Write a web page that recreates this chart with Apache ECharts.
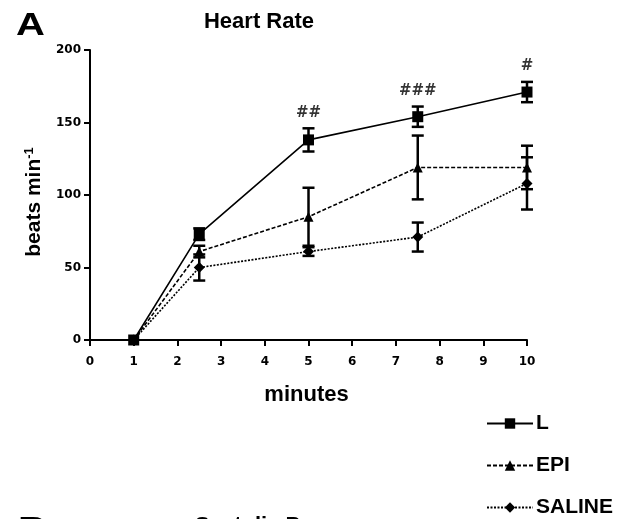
<!DOCTYPE html>
<html>
<head>
<meta charset="utf-8">
<script src="https://cdn.jsdelivr.net/npm/echarts@6/dist/echarts.min.js"></script>
<style>
  html, body { margin: 0; padding: 0; background: #fff; }
  #chart { width: 621px; height: 519px; }
</style>
</head>
<body>
<div id="chart"></div>
<script>
// Heart rate over time (mean ± SEM) for three treatment groups
const minutes = [1, 2.5, 5, 7.5, 10];
const L_mean = [0, 73, 138, 154, 171];
const L_err = [0, 4, 8, 7, 7];
const EPI_mean = [0, 61, 85, 119, 119];
const EPI_err = [0, 4, 20, 22, 15];
const SALINE_mean = [0, 50, 61, 71, 108];
const SALINE_err = [0, 9, 3, 10, 18];
// significance marks shown above the L group
const L_marks = ['', '', '##', '###', '#'];

const xTicks = [0, 1, 2, 3, 4, 5, 6, 7, 8, 9, 10];
const yTicks = [0, 50, 100, 150, 200];

const FONT = 'Liberation Sans, Arial, sans-serif';
const TICK_FONT = 'DejaVu Sans, sans-serif';

function pairs(xs, ys) { return xs.map((x, i) => [x, ys[i]]); }
function errRows(xs, m, e) { return xs.map((x, i) => [x, m[i] - e[i], m[i] + e[i]]); }

function errorBarSeries(name, rows) {
  return {
    type: 'custom',
    name: name + '-err',
    z: 3,
    silent: true,
    data: rows,
    renderItem: function (params, api) {
      const x = api.value(0);
      const lo = api.coord([x, api.value(1)]);
      const hi = api.coord([x, api.value(2)]);
      const cap = 6;
      if (Math.abs(lo[1] - hi[1]) < 0.5) return null;
      const style = { stroke: '#000', lineWidth: 2.5, fill: null };
      return {
        type: 'group',
        children: [
          { type: 'line', shape: { x1: lo[0], y1: lo[1], x2: hi[0], y2: hi[1] }, style },
          { type: 'line', shape: { x1: hi[0] - cap, y1: hi[1], x2: hi[0] + cap, y2: hi[1] }, style },
          { type: 'line', shape: { x1: lo[0] - cap, y1: lo[1], x2: lo[0] + cap, y2: lo[1] }, style }
        ]
      };
    }
  };
}

const chart = echarts.init(document.getElementById('chart'), null, { renderer: 'canvas' });

chart.setOption({
  backgroundColor: '#fff',
  animation: false,
  textStyle: { fontFamily: FONT, color: '#000' },
  grid: { left: 90, right: 94, top: 50, bottom: 179, containLabel: false },
  graphic: [
    { type: 'text', x: 16, y: 10, scaleX: 1.25, style: { text: 'A', font: 'bold 32px ' + FONT, fill: '#000' } },
    { type: 'text', x: 259, y: 11, style: { text: 'Heart Rate', font: 'bold 22px ' + FONT, fill: '#000', textAlign: 'center' } },
    { type: 'text', x: 18, y: 514, scaleX: 1.25, style: { text: 'B', font: 'bold 32px ' + FONT, fill: '#000' } },
    { type: 'text', x: 195, y: 515, style: { text: 'Systolic Pressure', font: 'bold 22px ' + FONT, fill: '#000' } }
  ],
  legend: {
    orient: 'vertical',
    left: 486,
    top: 413,
    height: 106,
    padding: 0,
    itemWidth: 46,
    itemHeight: 13,
    itemGap: 21,
    data: ['L', 'EPI', 'SALINE'],
    textStyle: { fontFamily: FONT, fontWeight: 'bold', fontSize: 21, color: '#000', padding: [0, 0, 0, -2] }
  },
  xAxis: {
    type: 'value',
    min: 0,
    max: 10,
    interval: 1,
    name: 'minutes',
    nameLocation: 'middle',
    nameGap: 44,
    nameTextStyle: { fontFamily: FONT, fontWeight: 'bold', fontSize: 22, color: '#000', padding: [0, 0, 0, -4] },
    splitLine: { show: false },
    axisLine: { show: true, onZero: false, lineStyle: { color: '#000', width: 2 } },
    axisTick: { show: true, length: 6, lineStyle: { color: '#000', width: 2 } },
    axisLabel: {
      fontFamily: TICK_FONT, fontWeight: 'bold', fontSize: 12, color: '#000', margin: 16,
      customValues: xTicks
    }
  },
  yAxis: {
    type: 'value',
    min: 0,
    max: 200,
    interval: 50,
    name: '{b|beats min}{s|-1}',
    nameLocation: 'middle',
    nameGap: 42,
    nameRotate: 90,
    nameTextStyle: {
      padding: [0, 14, 0, 0],
      rich: {
        b: { fontFamily: FONT, fontWeight: 'bold', fontSize: 21, color: '#000', lineHeight: 24 },
        s: { fontFamily: FONT, fontWeight: 'bold', fontSize: 13, color: '#000', verticalAlign: 'top', lineHeight: 24, padding: [0, 0, 9, 0] }
      }
    },
    splitLine: { show: false },
    axisLine: { show: true, lineStyle: { color: '#000', width: 2 } },
    axisTick: { show: true, length: 6, lineStyle: { color: '#000', width: 2 } },
    axisLabel: { fontFamily: TICK_FONT, fontWeight: 'bold', fontSize: 12, color: '#000', margin: 9 }
  },
  series: [
    {
      name: 'L',
      type: 'line',
      z: 5,
      data: pairs(minutes, L_mean),
      symbol: 'rect',
      symbolSize: 11,
      lineStyle: { color: '#000', width: 1.6, type: 'solid' },
      itemStyle: { color: '#000' }
    },
    {
      name: 'EPI',
      type: 'line',
      z: 5,
      data: pairs(minutes, EPI_mean),
      symbol: 'triangle',
      symbolSize: 10,
      lineStyle: { color: '#000', width: 1.6, type: [4, 2] },
      itemStyle: { color: '#000' }
    },
    {
      name: 'SALINE',
      type: 'line',
      z: 5,
      data: pairs(minutes, SALINE_mean),
      symbol: 'diamond',
      symbolSize: 11,
      lineStyle: { color: '#000', width: 1.6, type: [2, 1.5] },
      itemStyle: { color: '#000' }
    },
    errorBarSeries('L', errRows(minutes, L_mean, L_err)),
    errorBarSeries('EPI', errRows(minutes, EPI_mean, EPI_err)),
    errorBarSeries('SALINE', errRows(minutes, SALINE_mean, SALINE_err)),
    {
      name: 'marks',
      type: 'scatter',
      silent: true,
      symbolSize: 0,
      data: minutes.map((x, i) => ({
        value: [x, L_mean[i] + L_err[i]],
        label: {
          show: L_marks[i] !== '',
          formatter: L_marks[i],
          position: 'top',
          distance: 8,
          fontFamily: TICK_FONT,
          fontWeight: 'bold',
          fontSize: 15,
          color: '#000'
        }
      }))
    }
  ]
});
</script>
</body>
</html>
